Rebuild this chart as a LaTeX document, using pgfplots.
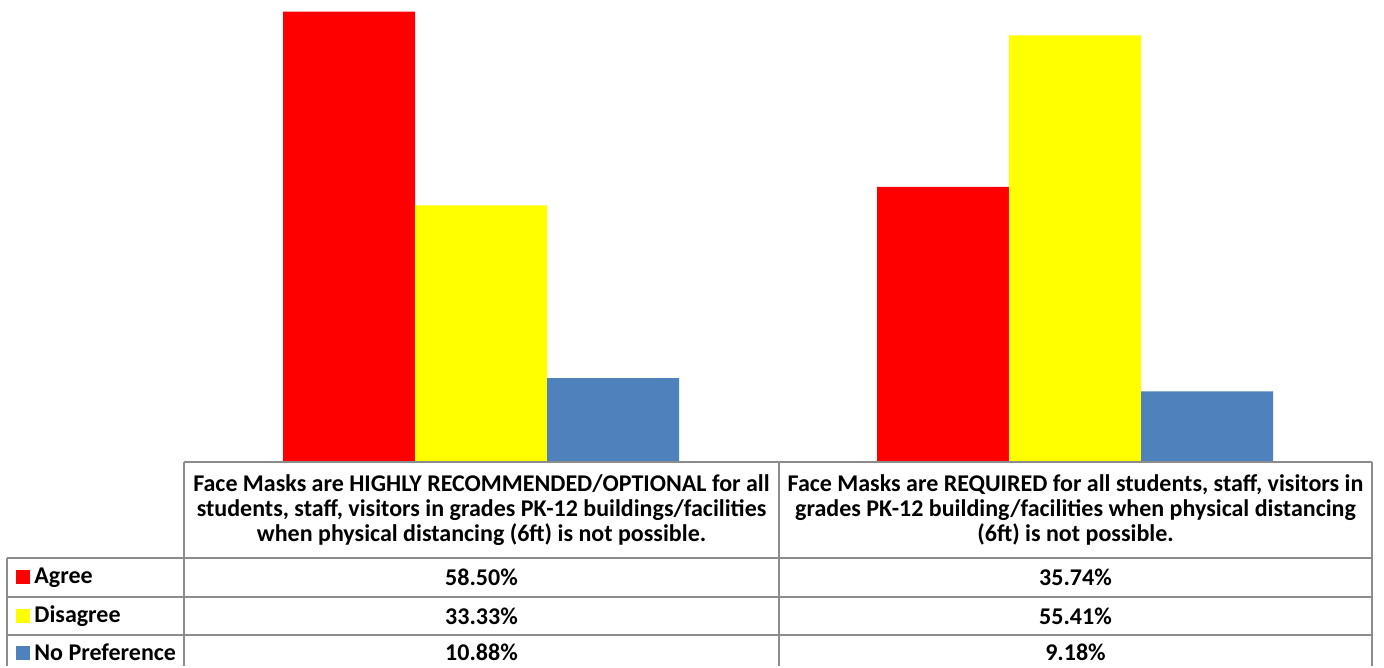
\documentclass[border=0pt]{standalone}
\usepackage{pgfplots}
\pgfplotsset{compat=1.18}
\usepackage{fontspec}
\setmainfont{Carlito}
\definecolor{cRed}{HTML}{FF0000}
\definecolor{cYel}{HTML}{FFFF00}
\definecolor{cBlue}{HTML}{4F81BD}
\definecolor{cGrid}{HTML}{8C8C8C}
\begin{document}
\begin{tikzpicture}
\begin{scope}[x=0.5pt,y=-0.5pt]
\path[use as bounding box] (0,0) rectangle (1384,666);
\end{scope}
\begin{axis}[
  at={(92pt,-231pt)}, anchor=south west,
  scale only axis, width=594pt, height=231pt,
  axis lines=none, ticks=none,
  xmin=-0.5, xmax=1.5, ymin=0, ymax=60,
  ybar=0pt, bar width=66pt,
  clip=false,
]
\addplot[fill=cRed, draw=none] coordinates {(0,58.50) (1,35.74)};
\addplot[fill=cYel, draw=none] coordinates {(0,33.33) (1,55.41)};
\addplot[fill=cBlue, draw=none] coordinates {(0,10.88) (1,9.18)};
\end{axis}
\begin{scope}[x=0.5pt,y=-0.5pt, font=\bfseries\fontsize{12pt}{12.5pt}\selectfont]
% table grid
\draw[cGrid, line width=0.9pt] (184,462) -- (1372,462);
\draw[cGrid, line width=0.9pt] (7,558) -- (1372,558);
\draw[cGrid, line width=0.9pt] (7,597) -- (1372,597);
\draw[cGrid, line width=0.9pt] (7,635) -- (1372,635);
\draw[cGrid, line width=0.9pt] (7,558) -- (7,666);
\draw[cGrid, line width=0.9pt] (184,462) -- (184,666);
\draw[cGrid, line width=0.9pt] (779,462) -- (779,666);
\draw[cGrid, line width=0.9pt] (1372,462) -- (1372,666);
% headers
\node[align=center, inner sep=0pt] at (481.5,510)
 {Face Masks are HIGHLY RECOMMENDED/OPTIONAL for all\\students, staff, visitors in grades PK-12 buildings/facilities\\when physical distancing (6ft) is not possible.};
\node[align=center, inner sep=0pt] at (1075.5,510)
 {Face Masks are REQUIRED for all students, staff, visitors in\\grades PK-12 building/facilities when physical distancing\\(6ft) is not possible.};
% row labels
\fill[cRed] (16,570) rectangle (30,584);
\fill[cYel] (16,609) rectangle (30,623);
\fill[cBlue] (16,646) rectangle (30,660);
\node[anchor=west, inner sep=0pt] at (34,577.5) {Agree};
\node[anchor=west, inner sep=0pt] at (34,616) {Disagree};
\node[anchor=west, inner sep=0pt] at (34,652) {No Preference};
% values
\node at (481.5,577.5) {58.50\%};
\node at (481.5,616) {33.33\%};
\node at (481.5,652) {10.88\%};
\node at (1075.5,577.5) {35.74\%};
\node at (1075.5,616) {55.41\%};
\node at (1075.5,652) {9.18\%};
\end{scope}
\end{tikzpicture}
\end{document}
